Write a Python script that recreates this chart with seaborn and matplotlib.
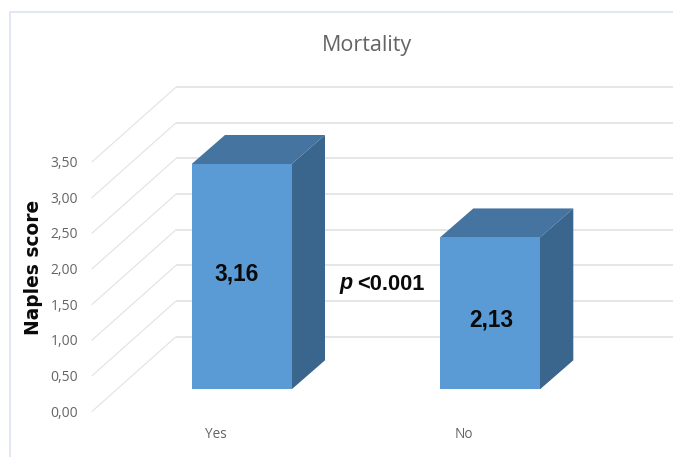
import matplotlib
matplotlib.use("Agg")
import matplotlib.pyplot as plt
from matplotlib.patches import Polygon
import seaborn as sns
import pandas as pd

categories = ["Yes", "No"]
naples_scores = [3.16, 2.13]
value_labels = ["3,16", "2,13"]
axis_values = [0.0, 0.5, 1.0, 1.5, 2.0, 2.5, 3.0, 3.5]

FRONT, TOP, SIDE = "#5B9BD5", "#44749F", "#3A658D"
GRID, GREY_TEXT = "#E2E2E2", "#646464"
W, H = 673, 457

# Scale of the plane holding the bars' front faces, in pixels per data unit
PX_X, PX_Y = 248.3, 71.3
X0_PX, Y0_PX = 241.7, 389.3


def dx(px):
    return px / PX_X


def dy(px):
    return px / PX_Y


sns.set_theme(style="white")
fig = plt.figure(figsize=(W / 100, H / 100), dpi=100)
ax = fig.add_axes([0, 0, 1, 1])

frame = pd.DataFrame({"mortality": categories, "score": naples_scores})
sns.barplot(data=frame, x="mortality", y="score", color=FRONT, saturation=1,
            width=100 / PX_X, ax=ax, zorder=5, linewidth=0, edgecolor="none")

ax.set_xlim(-X0_PX / PX_X, (W - X0_PX) / PX_X)
ax.set_ylim((Y0_PX - H) / PX_Y, Y0_PX / PX_Y)
ax.axis("off")

# Extruded top and side faces of each bar
depth_x, depth_y = dx(33.3), dy(29)
for bar in ax.patches[:len(categories)]:
    x0, x1 = bar.get_x(), bar.get_x() + bar.get_width()
    top = bar.get_height()
    ax.add_patch(Polygon([(x0, top), (x1, top), (x1 + depth_x, top + depth_y),
                          (x0 + depth_x, top + depth_y)],
                         facecolor=TOP, edgecolor="none", zorder=4))
    ax.add_patch(Polygon([(x1, 0), (x1 + depth_x, depth_y),
                          (x1 + depth_x, top + depth_y), (x1, top)],
                         facecolor=SIDE, edgecolor="none", zorder=4))

# Floor and back wall gridlines in the oblique projection
front_x = (91.7 - X0_PX) / PX_X
front_dy = dy(-22.4)
back_x = (176 - X0_PX) / PX_X
back_dy = dy(52.6)
right_x = (W - X0_PX) / PX_X
for v in axis_values:
    ax.plot([front_x, back_x], [v + front_dy, v + back_dy],
            color=GRID, lw=0.8, zorder=1, solid_capstyle="butt")
    ax.plot([back_x, right_x], [v + back_dy, v + back_dy],
            color=GRID, lw=1.2, zorder=1, solid_capstyle="butt")
    ax.text((78 - X0_PX) / PX_X, v + front_dy + dy(-1.5), f"{v:.2f}".replace(".", ","),
            ha="right", va="center", fontsize=10, color=GREY_TEXT, family="Open Sans")

# Category labels below the floor
for x_px, name in zip((216, 464), categories):
    ax.text((x_px - X0_PX) / PX_X, dy(Y0_PX - 434), name, ha="center", va="center",
            fontsize=9.8, color=GREY_TEXT, family="Open Sans")

# Values printed on the bars
for x_px, y_px, text in zip((237, 491), (274, 320), value_labels):
    ax.text((x_px - X0_PX) / PX_X, dy(Y0_PX - y_px), text, ha="center", va="center",
            fontsize=16.3, fontweight="bold", color="#0A0A0A",
            family="Liberation Sans", zorder=6)

# Significance note: italic p followed by the threshold
ax.text((346 - X0_PX) / PX_X, dy(Y0_PX - 284), "p", ha="center", va="center",
        fontsize=15.5, fontweight="bold", style="italic", color="#0A0A0A",
        family="Liberation Sans", zorder=6)
ax.text((425 - X0_PX) / PX_X, dy(Y0_PX - 284), "<0.001", ha="right", va="center",
        fontsize=15.7, fontweight="bold", color="#0A0A0A",
        family="Liberation Sans", zorder=6)

ax.text((33.5 - X0_PX) / PX_X, dy(Y0_PX - 267.5), "Naples score", rotation=90,
        ha="center", va="center", fontsize=13.4, fontweight="bold", color="#0A0A0A",
        family="DejaVu Sans")

ax.text((367 - X0_PX) / PX_X, dy(Y0_PX - 46), "Mortality", ha="center", va="center",
        fontsize=15.5, color=GREY_TEXT, family="Open Sans")

# Thin chart frame along the top and left edges
frame_color = "#E3E6F3"
ax.plot([(10.5 - X0_PX) / PX_X, right_x], [dy(Y0_PX - 11.5)] * 2, color=frame_color, lw=1.4)
ax.plot([(10.5 - X0_PX) / PX_X] * 2, [dy(Y0_PX - 11.5), dy(Y0_PX - H)], color=frame_color, lw=1.4)

fig.savefig("out.png", dpi=100)
